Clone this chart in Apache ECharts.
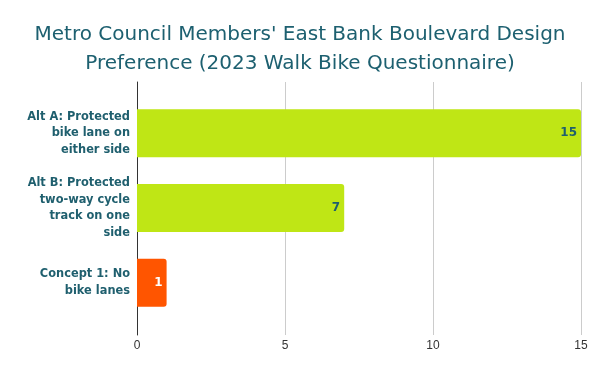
<!DOCTYPE html>
<html><head><meta charset="utf-8">
<script src="https://cdn.jsdelivr.net/npm/echarts@6/dist/echarts.min.js"></script>
<style>html,body{margin:0;padding:0;background:#fff}#c{width:600px;height:371px}</style>
</head><body><div id="c"></div>
<script>
const categories = ["Alt A: Protected\nbike lane on\neither side", "Alt B: Protected\ntwo-way cycle\ntrack on one\nside", "Concept 1: No\nbike lanes"];
const values = [15, 7, 1];
const barColors = ["#bfe615", "#bfe615", "#ff5500"];
const labelColors = ["#1f5f6e", "#1f5f6e", "#ffffff"];
const xTicks = [0, 5, 10, 15];

const chart = echarts.init(document.getElementById('c'));
chart.setOption({
  animation: false,
  title: {
    text: "Metro Council Members' East Bank Boulevard Design\nPreference (2023 Walk Bike Questionnaire)",
    left: 'center', top: 15,
    textStyle: {fontFamily: 'DejaVu Sans', fontWeight: 'normal', fontSize: 20, color: '#1d6070', lineHeight: 29}
  },
  grid: [
    {left: 137, right: 19, top: 82, bottom: 36},
    {left: 137, right: 19, top: 96, bottom: 51}
  ],
  xAxis: [
    {gridIndex: 0, type: 'value', min: xTicks[0], max: xTicks[xTicks.length-1], interval: 5,
     axisLine: {show: false}, axisTick: {show: false},
     splitLine: {show: true, lineStyle: {color: '#cccccc', width: 1}},
     axisLabel: {color: '#333', fontFamily: 'Liberation Sans', fontSize: 12, margin: 5}},
    {gridIndex: 1, type: 'value', min: xTicks[0], max: xTicks[xTicks.length-1], interval: 5, show: false}
  ],
  yAxis: [
    {gridIndex: 0, type: 'value', axisLine: {show: true, lineStyle: {color: '#333', width: 1}},
     axisLabel: {show: false}, axisTick: {show: false}, splitLine: {show: false}},
    {gridIndex: 1, type: 'category', data: categories, inverse: true,
     axisLine: {show: false}, axisTick: {show: false},
     axisLabel: {color: '#1f5f6e', fontFamily: 'DejaVu Sans', fontWeight: 'bold', fontSize: 11.4, lineHeight: 16.5, margin: 7, align: 'right'}}
  ],
  series: [{
    type: 'bar', xAxisIndex: 1, yAxisIndex: 1,
    data: values.map((v, i) => ({value: v, itemStyle: {color: barColors[i]},
      label: {color: labelColors[i]}})),
    barWidth: 48,
    itemStyle: {borderRadius: [0, 3, 3, 0]},
    label: {show: true, position: 'insideRight', fontFamily: 'DejaVu Sans', fontWeight: 'bold', fontSize: 12, offset: [1, 0]}
  }]
});
</script></body></html>
